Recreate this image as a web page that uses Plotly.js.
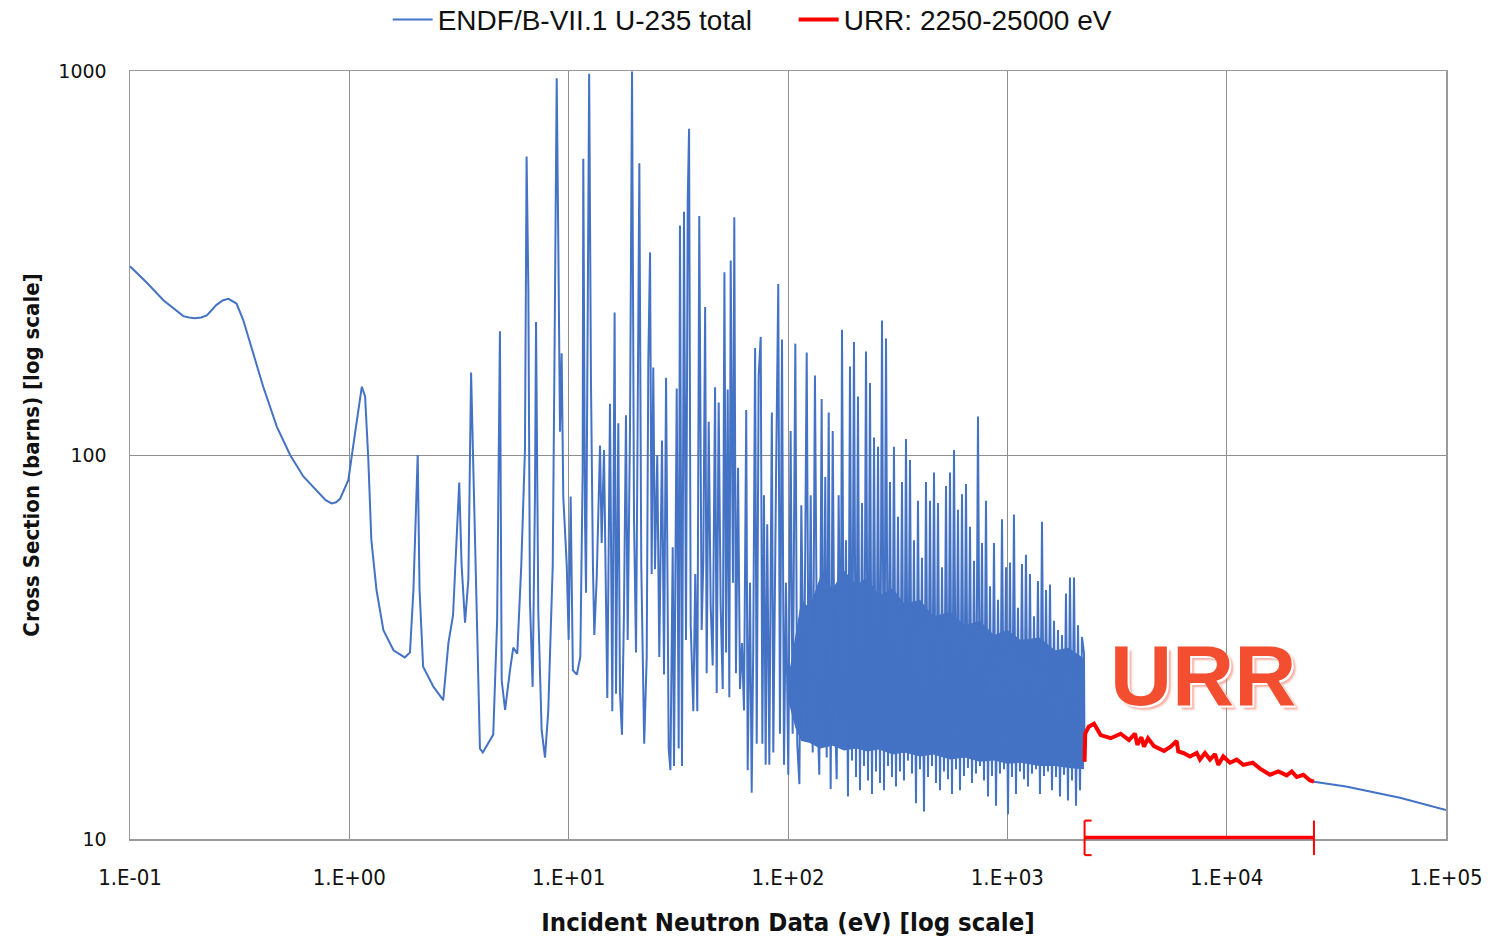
<!DOCTYPE html>
<html>
<head>
<meta charset="utf-8">
<script src="https://cdn.plot.ly/plotly-3.0.1.min.js"></script>
<style>
  html, body { margin: 0; padding: 0; background: #ffffff; }
  #chart { width: 1491px; height: 937px; }
</style>
</head>
<body>
<div id="chart"></div>
<script>
// U-235 total cross section, resolved resonance range (eV, barns)
const resE = [
  0.1, 0.12, 0.142, 0.16, 0.175, 0.186, 0.198, 0.211, 0.224, 0.248, 0.266, 0.281, 0.306, 0.328, 0.365,
  0.405, 0.467, 0.537, 0.617, 0.735, 0.78, 0.831, 0.87, 0.907, 0.99, 1.04, 1.10, 1.14, 1.18, 1.22, 1.26,
  1.33, 1.43, 1.59, 1.79, 1.89,
  1.96, 2.05, 2.09, 2.17, 2.42, 2.68, 2.83, 2.97, 3.17, 3.25, 3.37, 3.49, 3.59, 3.70, 3.83, 3.94, 4.06,
  4.53, 4.72, 4.86, 4.95, 5.13, 5.40, 5.59, 5.83, 6.08, 6.32, 6.43, 6.55, 6.66, 6.85, 7.02, 7.10, 7.27,
  7.53, 7.80, 8.07, 8.46, 8.60, 8.82, 8.97, 9.13, 9.29, 9.45, 9.8, 10.0, 10.21, 10.45, 10.9, 11.3, 11.58,
  11.66, 11.87, 12.0, 12.4, 12.64, 12.9, 13.09, 13.42, 13.9, 14.14, 14.49, 14.80, 15.0, 15.43, 15.81, 16.2,
  16.44, 16.84, 17.14, 17.5, 17.87, 18.25, 18.58, 19.04, 19.45, 19.86, 20.28, 20.56, 21.0, 21.43, 22.1,
  22.69, 23.07, 23.5, 23.9, 24.31, 24.75, 25.35, 25.89, 26.64, 27.21, 27.8, 28.58, 29.1, 29.81, 30.22,
  31.09, 31.74, 32.17, 32.86, 33.56, 34.27, 34.9, 35.4, 36.0, 37.0, 37.78, 38.59, 39.4, 40.4, 41.1, 41.9,
  42.58, 43.5, 44.4, 45.36, 46.5, 47.3, 48.3, 49.3, 50.4, 51.3, 52.2, 53.1, 54.0, 54.8, 56.1, 56.9, 57.9,
  59.2, 60.4, 61.7, 63.0, 64.5, 65.5, 67.1, 68.3, 69.4, 70.8, 72.0, 73.5, 75.1, 76.4, 77.7, 79.1, 80.4,
  82.2, 84.4, 85.7, 88.2, 90.3, 91.9, 93.9, 95.9, 97.9, 100.3, 102.8, 105.0, 108.0, 110.2, 112.7, 115.0,
  118.3, 121.7, 124.3, 126.9, 129.6, 132.7, 136.0, 138.9, 142.4, 144.8, 147.9, 150.1, 153.3, 156.5, 159.9,
  163.3, 166.7, 170.2, 173.9,
  176.3, 180.0, 183.8, 187.7, 191.7, 195.8, 199.9, 204.2, 208.5, 212.9, 217.5, 222.1, 226.8, 231.6, 236.5,
  241.5, 246.7, 251.9, 257.3, 262.7, 268.3, 274.0, 279.8, 285.7, 291.7, 297.9, 304.2, 310.7, 317.3, 324.0,
  330.9, 337.9, 345.1, 352.4, 359.9, 367.5, 375.3, 383.3, 391.4, 399.7, 408.2, 416.9, 425.7, 434.8, 444.0,
  453.4, 463.1, 472.9, 483.0, 493.2, 503.7, 514.3, 525.3, 536.4, 547.8, 559.4, 571.3, 583.4, 595.7, 608.4,
  621.3, 634.5, 647.9, 661.6, 675.7, 690.1, 704.7, 719.6, 734.9, 750.5, 766.5, 782.8, 799.3, 816.3, 833.6,
  851.1, 869.4, 887.8, 906.6, 925.8, 945.5, 965.6, 986.0, 1007, 1028, 1050, 1072, 1095, 1118, 1142,
  1166, 1191, 1216, 1242, 1268, 1295, 1323, 1351, 1379, 1409, 1439, 1469, 1501, 1532, 1565,
  1598, 1632, 1667, 1702, 1738, 1775, 1813, 1851, 1890, 1930, 1972, 2014, 2056, 2100, 2144,
  2189, 2236
];
const resSigma = [
  310, 280, 253, 240, 230, 228, 227, 228, 231, 246, 253, 255, 248, 225, 184,
  150.6, 118.6, 100, 87.9, 78.7, 76.3, 74.8, 75.3, 76.9, 86.1, 105, 133.6, 150.6, 142, 98, 60.1,
  44.5, 35, 31, 29.7, 30.6,
  44.5, 100, 44.5, 28.1, 24.9, 23.0, 32.4, 38.2, 84.8, 51.6, 36.6, 47.6, 164, 78, 29.8, 17.2, 16.8,
  18.7, 37.2, 210, 25.9, 21.7, 27.5, 31.5, 30.4, 51.6, 103, 599, 269, 41.5, 24.9, 78, 222, 39,
  19.2, 16.3, 21.5, 51.6, 155, 957, 354, 115, 184, 78, 51.6, 33, 78, 27.5, 26.8, 29.8, 89.7,
  591, 68, 43.8, 984, 155, 51.6, 34, 47.6, 105.8, 59, 103, 41.5, 23.3, 136, 21.5, 235,
  23.9, 121, 23.9, 18.7, 39, 127, 33, 118, 997, 68, 30.6, 89.7, 575, 51.6, 17.7,
  29.8, 174, 337, 49, 169, 50.4, 100, 29.8, 109, 26.8, 159, 17.2, 15.1, 57.5, 15.5,
  149, 17.2, 396, 15.5, 430, 33, 462, 707, 36.2, 21.5, 49, 21.5, 419, 35, 53, 243,
  27, 122, 40.6, 28.3, 150, 24, 137, 40.6, 24.6, 299, 30.6, 148, 23.4, 321, 46.5, 416, 27,
  92.6, 24.6, 32.4, 21.6, 131, 15.1, 46.5, 13.2, 30.6, 190, 17.7, 161, 203, 17.7, 78.6, 15.6, 66,
  15.6, 129, 16.8, 87.7, 279, 18.8, 200, 15.6, 46.5, 14.7, 115.5, 18.8, 195, 17.7, 13.9, 74,
  22, 185, 18.8, 78.6, 16.8, 161, 22, 14.7, 140, 18.8, 87.7, 16.3, 129, 13.5, 115.5,
  23.4, 14.3, 78.6, 20.4,
  212, 18, 60, 12.9, 170, 16, 197, 14.5, 142, 13.4, 75, 15.5, 186, 14.2, 154,
  13.1, 111, 15, 105, 14, 224, 13.4, 201, 15.5, 85, 14.5, 105, 13.7, 69, 15,
  85, 14.2, 110, 16, 97, 14.8, 60, 12.4, 76, 15.2, 54, 11.8, 85, 14.5, 76,
  15.5, 90, 14, 75, 13.4, 51, 15, 83, 14.3, 90, 13.1, 103, 15.2, 72, 13.4,
  79, 14.6, 84, 15.3, 65, 14.0, 53, 14.8, 126, 15.5, 59, 14.2, 76, 12.9, 45.5,
  14.6, 59, 12.2, 42, 14.8, 68, 15.2, 51, 11.6, 52.5, 14.5, 70, 13.1, 40, 15,
  52, 14.3, 55, 13.7, 49, 14.8, 38, 15.2, 47, 13.1, 67, 14.6, 44.5, 15, 46,
  13.4, 37, 14.5, 35, 12.9, 34, 14.7, 43.6, 12.6, 48, 14.2, 48, 12.2, 36, 13.4,
  33.6, 30.5
];

// Unresolved resonance range, 2250-25000 eV
const urrE = [
  2250, 2265, 2350, 2484, 2664, 2959, 3286, 3586, 3819, 3916, 4085, 4198, 4378, 4664, 5180, 5554,
  5913, 6017, 6342, 6802, 7299, 7556, 7963, 8395, 8849, 9158, 9652, 10356, 11110, 11907, 13144,
  14195, 15764, 17200, 18785, 19806, 20870, 22370, 23990, 25000
];
const urrSigma = [
  15.9, 18.8, 19.6, 19.95, 18.65, 18.3, 18.8, 18.1, 18.8, 17.6, 18.4, 17.4, 18.3, 17.45, 16.95, 17.4,
  18.0, 16.9, 16.75, 16.4, 16.75, 16.1, 16.75, 16.1, 16.65, 15.6, 16.4, 15.8, 16.1, 15.6, 15.8,
  15.25, 14.7, 15.0, 14.65, 15.0, 14.5, 14.7, 14.2, 14.1
];

// Smooth fast range above the URR
const fastE = [35000, 45000, 61660, 100000];
const fastSigma = [13.7, 13.3, 12.8, 11.9];

// Overlapping-resonance core of the resolved range (lower / upper edge of the dense band)
const coreE = [100, 108, 115, 125, 140, 160, 180, 205, 230, 260, 300, 340, 400, 460, 550, 640, 750, 870,
  1000, 1150, 1400, 1650, 1900, 2236];
const coreLow = [23, 19.5, 18, 17.8, 17.2, 17.5, 17, 17.2, 16.9, 17.1, 16.6, 16.8, 16.4, 16.6, 16.1, 16.3,
  15.9, 16.0, 15.7, 15.8, 15.5, 15.5, 15.3, 15.2];
const coreHigh = [26, 34, 42, 40, 48, 45, 50, 46, 48, 43, 45, 41, 42, 38, 39, 36, 37, 34,
  35, 33, 33.5, 31, 31.5, 29.5];

// Axis ticks
const xTickVals = [0.1, 1, 10, 100, 1000, 10000, 100000];
const xTickText = ['1.E-01', '1.E+00', '1.E+01', '1.E+02', '1.E+03', '1.E+04', '1.E+05'];
const yTickVals = [10, 100, 1000];
const yTickText = ['10', '100', '1000'];

const BLUE = '#4472C4';
const RED = '#FF0000';
const GRID = '#8f8f8f';
const narrow = '"Liberation Sans Narrow", "DejaVu Sans Condensed", "Roboto Condensed", Arial, sans-serif';

const totalE = resE.concat(urrE, fastE);
const totalSigma = resSigma.concat(urrSigma, fastSigma);

const traces = [
  {
    x: coreE, y: coreLow, type: 'scatter', mode: 'lines',
    line: { width: 0, color: BLUE }, showlegend: false, hoverinfo: 'skip'
  },
  {
    x: coreE, y: coreHigh, type: 'scatter', mode: 'lines', fill: 'tonexty',
    fillcolor: BLUE, line: { width: 0, color: BLUE }, showlegend: false, hoverinfo: 'skip'
  },
  {
    x: totalE, y: totalSigma, type: 'scatter', mode: 'lines',
    name: 'ENDF/B-VII.1 U-235 total',
    line: { color: BLUE, width: 2 }
  },
  {
    x: urrE, y: urrSigma, type: 'scatter', mode: 'lines',
    name: 'URR: 2250-25000 eV',
    line: { color: RED, width: 4 }
  }
];

const capTop = 0.024, capBottom = -0.021, barY = 0.002;
const first = urrE[0], last = urrE[urrE.length - 1];
const redLine = (w) => ({ color: RED, width: w });

const layout = {
  width: 1491, height: 937,
  margin: { l: 130, r: 45, t: 71, b: 98 },
  paper_bgcolor: '#ffffff', plot_bgcolor: '#ffffff',
  showlegend: true,
  legend: {
    orientation: 'h', traceorder: 'normal',
    xref: 'container', yref: 'container',
    x: 0.26, xanchor: 'left', y: 0.979, yanchor: 'middle',
    font: { family: 'Liberation Sans, Arial, sans-serif', size: 28, color: '#111111' },
    entrywidth: 351, entrywidthmode: 'pixels', itemwidth: 40,
    bgcolor: 'rgba(0,0,0,0)'
  },
  xaxis: {
    type: 'log', range: [-1, 5], automargin: false,
    tickvals: xTickVals, ticktext: xTickText, ticks: '',
    ticklabelstandoff: 18,
    tickfont: { family: narrow, size: 22, color: '#111111' },
    showgrid: true, gridcolor: GRID, gridwidth: 1,
    showline: true, linecolor: '#9a9a9a', linewidth: 1.5, mirror: true,
    zeroline: false,
    title: {
      text: 'Incident Neutron Data (eV) [log scale]',
      font: { family: narrow, size: 25.5, color: '#111111', weight: 'bold' },
      standoff: 28
    }
  },
  yaxis: {
    type: 'log', range: [1, 3], automargin: false,
    tickvals: yTickVals, ticktext: yTickText, ticks: '',
    ticklabelstandoff: 18,
    tickfont: { family: 'DejaVu Sans, Verdana, sans-serif', size: 19, color: '#111111' },
    showgrid: true, gridcolor: GRID, gridwidth: 1,
    showline: true, linecolor: '#9a9a9a', linewidth: 1.5, mirror: true,
    zeroline: false,
    title: {
      text: 'Cross Section (barns) [log scale]',
      font: { family: narrow, size: 22, color: '#111111', weight: 'bold' },
      standoff: 12
    }
  },
  shapes: [
    { type: 'line', layer: 'above', xref: 'x', yref: 'paper', x0: first, x1: last, y0: barY, y1: barY, line: redLine(3.5) },
    { type: 'line', layer: 'above', xref: 'x', yref: 'paper', x0: first, x1: first, y0: capBottom, y1: capTop, line: redLine(2) },
    { type: 'line', layer: 'above', xref: 'x', yref: 'paper', xsizemode: 'pixel', xanchor: first, x0: 0, x1: 7, y0: capTop, y1: capTop, line: redLine(2) },
    { type: 'line', layer: 'above', xref: 'x', yref: 'paper', xsizemode: 'pixel', xanchor: first, x0: 0, x1: 7, y0: capBottom, y1: capBottom, line: redLine(2) },
    { type: 'line', layer: 'above', xref: 'x', yref: 'paper', x0: last, x1: last, y0: capBottom, y1: capTop, line: redLine(2) },
    { type: 'line', layer: 'above', xref: 'x', yref: 'paper', xsizemode: 'pixel', xanchor: last, x0: -7, x1: 0, y0: capTop, y1: capTop, line: redLine(2) },
    { type: 'line', layer: 'above', xref: 'x', yref: 'paper', xsizemode: 'pixel', xanchor: last, x0: -7, x1: 0, y0: capBottom, y1: capBottom, line: redLine(2) }
  ],
  annotations: [
    {
      text: 'URR', xref: 'paper', yref: 'paper', x: 0.8153, y: 0.2135,
      xanchor: 'center', yanchor: 'middle', showarrow: false,
      font: {
        family: 'Liberation Sans, Arial, sans-serif', size: 86, color: '#F24E2F', weight: 'bold',
        shadow: '2px 2px 0 #ffffff, 4px 4px 2px rgba(242, 110, 90, 0.55)'
      }
    }
  ]
};

Plotly.newPlot('chart', traces, layout, { displayModeBar: false, staticPlot: true });
</script>
</body>
</html>
